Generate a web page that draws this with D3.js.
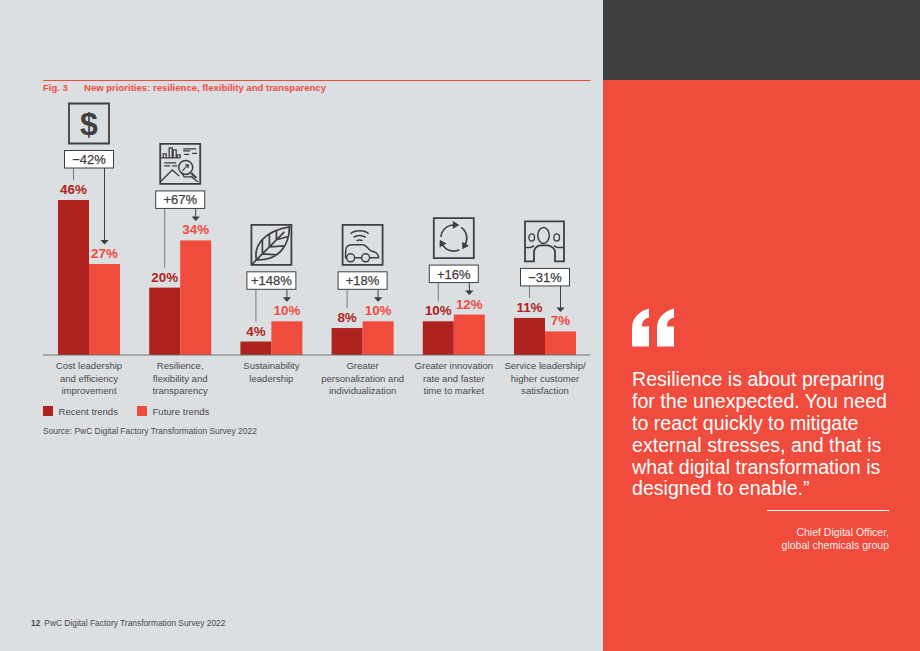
<!DOCTYPE html>
<html>
<head>
<meta charset="utf-8">
<script src="https://cdnjs.cloudflare.com/ajax/libs/d3/7.8.5/d3.min.js"></script>
<style>
  html, body { margin: 0; padding: 0; background: #dcdfe1; }
  svg { display: block; }
  text { font-family: "Liberation Sans", Arial, sans-serif; }
</style>
</head>
<body>
<svg id="page" width="920" height="651"></svg>
<script>
// Survey results, in percent of respondents
const categories = [
  "Cost leadership|and efficiency|improvement",
  "Resilience,|flexibility and|transparency",
  "Sustainability|leadership",
  "Greater|personalization and|individualization",
  "Greater innovation|rate and faster|time to market",
  "Service leadership/|higher customer|satisfaction"
];
const recentTrends = [46, 20, 4, 8, 10, 11];
const futureTrends = [27, 34, 10, 10, 12, 7];
const changeLabels = ["\u221242%", "+67%", "+148%", "+18%", "+16%", "\u221231%"];
const seriesNames = ["Recent trends", "Future trends"];
const quoteLines = [
  "Resilience is about preparing",
  "for the unexpected. You need",
  "to react quickly to mitigate",
  "external stresses, and that is",
  "what digital transformation is",
  "designed to enable.\u201d"
];
const quoteSource = ["Chief Digital Officer,", "global chemicals group"];

const INK = "#3f3f42", RED = "#f04c3e", DARK_RED = "#ae2320", BG = "#dcdfe1", TEXT = "#4a4a4d";
const svg = d3.select("#page");

// Page furniture
svg.append("rect").attr("width", 920).attr("height", 651).attr("fill", BG);
svg.append("rect").attr("x", 603).attr("width", 317).attr("height", 80).attr("fill", "#404043");
svg.append("rect").attr("x", 603).attr("y", 80).attr("width", 317).attr("height", 571).attr("fill", RED);

// Figure title
svg.append("line").attr("x1", 43).attr("x2", 590.5).attr("y1", 80.5).attr("y2", 80.5)
  .attr("stroke", RED).attr("stroke-width", 1);
const title = svg.append("g").attr("font-size", 9.55).attr("font-weight", 700).attr("fill", RED);
title.append("text").attr("x", 43).attr("y", 91).text("Fig. 3");
title.append("text").attr("x", 84).attr("y", 91).text("New priorities: resilience, flexibility and transparency");

// Scales
const x0 = d3.scaleBand().domain(d3.range(categories.length)).range([43.4, 590.6]).paddingInner(0.32).paddingOuter(0.16);
const x1 = d3.scaleBand().domain([0, 1]).range([0, x0.bandwidth()]);
const y = d3.scaleLinear().domain([0, 46]).range([355, 200]);

const groups = svg.append("g").selectAll("g")
  .data(categories.map((c, i) => ({ c, i, values: [recentTrends[i], futureTrends[i]] })))
  .join("g")
  .attr("transform", d => `translate(${x0(d.i)},0)`);

// Bars
groups.selectAll("rect.bar").data(d => d.values).join("rect")
  .attr("class", "bar")
  .attr("x", (v, j) => x1(j))
  .attr("y", v => y(v))
  .attr("width", x1.bandwidth())
  .attr("height", v => y(0) - y(v))
  .attr("fill", (v, j) => j ? RED : DARK_RED);

// Value labels
groups.selectAll("text.val").data(d => d.values).join("text")
  .attr("class", "val")
  .attr("x", (v, j) => x1(j) + x1.bandwidth() / 2)
  .attr("y", v => y(v) - 6)
  .attr("text-anchor", "middle")
  .attr("font-size", 13.4)
  .attr("font-weight", 700)
  .attr("fill", (v, j) => j ? RED : DARK_RED)
  .text(v => v + "%");

// Change callouts sit a fixed distance above the taller bar of each pair
const boxW = 49, boxH = 17.5, boxGap = 32;
const boxBottom = d => y(Math.max(...d.values)) - boxGap;
const boxLeft = (x0.bandwidth() - boxW) / 2;

// Connectors from the callout down to each value label
groups.selectAll("line.conn").data(d => d.values.map((v, j) => ({ v, j, top: boxBottom(d) }))).join("line")
  .attr("class", "conn")
  .attr("x1", e => x1(e.j) + x1.bandwidth() / 2)
  .attr("x2", e => x1(e.j) + x1.bandwidth() / 2)
  .attr("y1", e => e.top)
  .attr("y2", e => y(e.v) - (e.j ? 23 : 20))
  .attr("stroke", e => e.j ? INK : "#77787b")
  .attr("stroke-width", 1);

// Arrow head on the future-trend connector
groups.append("path")
  .attr("d", d => {
    const cx = x1(1) + x1.bandwidth() / 2, tip = y(d.values[1]) - 19.5;
    return d3.line()([[cx - 4.2, tip - 4.5], [cx + 4.2, tip - 4.5], [cx, tip]]) + "Z";
  })
  .attr("fill", INK);

groups.append("rect")
  .attr("x", boxLeft)
  .attr("y", d => boxBottom(d) - boxH)
  .attr("width", boxW)
  .attr("height", boxH)
  .attr("fill", "#ffffff")
  .attr("stroke", INK)
  .attr("stroke-width", 1);

groups.append("text")
  .attr("x", x0.bandwidth() / 2)
  .attr("y", d => boxBottom(d) - 4)
  .attr("text-anchor", "middle")
  .attr("font-size", 13)
  .attr("stroke", INK).attr("stroke-width", 0.25)
  .attr("fill", INK)
  .text(d => changeLabels[d.i]);

// Pictograms, each drawn in a 40 x 40 frame above its callout
const iconDrawers = [
  g => {
    g.append("text").attr("x", 20).attr("y", 31).attr("text-anchor", "middle")
      .attr("font-size", 32).attr("font-weight", 700).attr("fill", INK).attr("stroke", "none").text("$");
  },
  g => {
    g.append("path").attr("stroke-width", 1.3).attr("d",
      "M0 14H20M3 14V10H6V14M9 14V4H12V14M13 14V6H16V14M17 14V11H20V14" +
      "M23 5H36M23 7H30M32 9.5H37M24 10.5H29M4 19H16M4 22H10M12 22H17" +
      "M0 38L12 26L19 32M22 30L24 33H33M30 32L38 38");
    g.append("circle").attr("cx", 25.5).attr("cy", 23.5).attr("r", 7).attr("stroke-width", 1.5);
    g.append("path").attr("stroke-width", 1.2).attr("d", "M22 27L28 21M25 21H28V24");
    g.append("path").attr("stroke-width", 2.2).attr("d", "M31 29L36 34");
  },
  g => {
    g.append("path").attr("stroke-width", 1.7).attr("d",
      "M0 40L33 7M5 35C2 20 14 6 38 2C38 20 28 36 5 35" +
      "M11 29V14M18 22V9M25 15V5M11 29L26 30M18 22L33 21M25 15L36 12");
  },
  g => {
    g.append("path").attr("stroke-width", 1.5).attr("d",
      "M8 9C12 5 22 5 26 9M11 12.5C14 10 20 10 23 12.5M14 16C16 15 18 15 20 16");
    g.append("path").attr("stroke-width", 1.5).attr("d",
      "M4 33H3V27C3 23 5 20 9 20H20C23 20 25 23 28 26C32 27 36 28 36 33H27M12 33H19");
    g.append("circle").attr("cx", 8).attr("cy", 33).attr("r", 4).attr("stroke-width", 1.5);
    g.append("circle").attr("cx", 23).attr("cy", 33).attr("r", 4).attr("stroke-width", 1.5);
  },
  g => {
    g.append("g").selectAll("g").data([0, 120, 240]).join("g")
      .attr("transform", a => `rotate(${a},20,20)`)
      .call(s => s.append("path").attr("stroke-width", 1.6).attr("d", "M7.05 18.9A13 13 0 0 1 20 7"))
      .call(s => s.append("path").attr("fill", INK).attr("stroke", "none").attr("d", "M19 3L25.5 7L19 11Z"));
  },
  g => {
    g.append("ellipse").attr("cx", 18.5).attr("cy", 14).attr("rx", 5.7).attr("ry", 8).attr("stroke-width", 1.5);
    g.append("ellipse").attr("cx", 6.7).attr("cy", 16).attr("rx", 2.8).attr("ry", 3.6).attr("stroke-width", 1.4);
    g.append("ellipse").attr("cx", 31.7).attr("cy", 16).attr("rx", 2.8).attr("ry", 3.6).attr("stroke-width", 1.4);
    g.append("path").attr("stroke-width", 1.5).attr("d",
      "M0 26H5C7 26 8 25 9 24M39 26H33C31 26 30 25 29 24");
  }
];
const icons = groups.append("g")
  .attr("transform", d => `translate(${x0.bandwidth() / 2 - 20},${boxBottom(d) - boxH - 7 - 40})`)
  .attr("fill", "none").attr("stroke", INK);
// The people pictogram has an open frame whose base is formed by the shoulders
icons.append("path").attr("stroke-width", 1.8)
  .attr("d", d => d.i === 5
    ? "M0 40V0H39V40H30V31C30 27 27 25 23 24H15C11 25 9 27 9 31V40Z"
    : "M0 0H40V40H0Z");
icons.each(function (d) { iconDrawers[d.i](d3.select(this)); });

// Baseline
svg.append("line").attr("x1", 43).attr("x2", 590.5).attr("y1", y(0)).attr("y2", y(0))
  .attr("stroke", "#6f7073").attr("stroke-width", 1);

// Category labels
groups.append("text")
  .attr("text-anchor", "middle").attr("font-size", 9.55).attr("fill", TEXT)
  .selectAll("tspan").data(d => d.c.split("|")).join("tspan")
  .attr("x", x0.bandwidth() / 2)
  .attr("y", (s, i) => 369 + i * 12.7)
  .text(s => s);

// Legend
const legend = svg.append("g").selectAll("g").data(seriesNames).join("g")
  .attr("transform", (s, i) => `translate(${43 + i * 94},406)`);
legend.append("rect").attr("width", 10).attr("height", 10).attr("fill", (s, i) => i ? RED : DARK_RED);
legend.append("text").attr("x", 15.5).attr("y", 8.6).attr("font-size", 9.55).attr("fill", TEXT).text(s => s);

// Source and folio
svg.append("text").attr("x", 43).attr("y", 434).attr("font-size", 8.45).attr("fill", TEXT)
  .text("Source: PwC Digital Factory Transformation Survey 2022");
const folio = svg.append("text").attr("x", 31).attr("y", 626).attr("font-size", 8.4).attr("fill", TEXT);
folio.append("tspan").attr("font-weight", 700).text("12");
folio.append("tspan").attr("dx", 4).text("PwC Digital Factory Transformation Survey 2022");

// Quote panel
svg.append("g").attr("fill", "#ffffff").selectAll("path").data([0, 25]).join("path")
  .attr("transform", d => `translate(${632 + d},308.5)`)
  .attr("d", "M0 38V20C0 9 7 3 17 0V9C13 10 10 12 10 18H17V38Z");
svg.append("g").attr("font-size", 19.6).attr("fill", "#ffffff")
  .selectAll("text").data(quoteLines).join("text")
  .attr("x", 632).attr("y", (s, i) => 386.3 + i * 21.8).text(s => s);
svg.append("line").attr("x1", 767).attr("x2", 889).attr("y1", 510.5).attr("y2", 510.5)
  .attr("stroke", "#ffffff").attr("stroke-width", 1);
svg.append("g").attr("font-size", 10.5).attr("fill", "#ffffff").attr("fill-opacity", 0.92).attr("text-anchor", "end")
  .selectAll("text").data(quoteSource).join("text")
  .attr("x", 889).attr("y", (s, i) => 536 + i * 13.3).text(s => s);
</script>
</body>
</html>
